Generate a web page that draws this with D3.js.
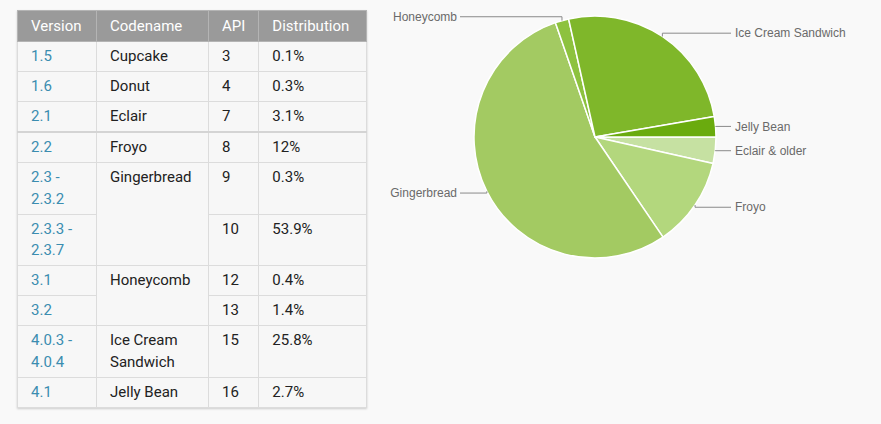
<!DOCTYPE html>
<html>
<head>
<meta charset="utf-8">
<script src="https://cdn.jsdelivr.net/npm/d3@7"></script>
<style>
  html, body { margin: 0; padding: 0; background: #f9f9f9; }
  #wrap { position: relative; width: 881px; height: 424px; overflow: hidden; }
  table.dist {
    position: absolute; left: 17px; top: 10px;
    border-collapse: collapse;
    font-family: Roboto, sans-serif; font-size: 15px; color: #222;
    box-shadow: 0 1px 2px rgba(0,0,0,0.18);
    background: #f7f7f7;
  }
  table.dist th {
    background: #9a9a9a; color: #fff; font-weight: normal; font-size: 15px;
    text-align: left; padding: 5px 13px 5px 13px; line-height: 20px;
    border: 1px solid #b4b4b4;
  }
  table.dist td {
    vertical-align: top; padding: 4px 13px 3.5px 13px; line-height: 21.5px;
    border: 1px solid #dcdcdc;
  }
  table.dist td.ver { color: #3b8db0; }
  table.dist tr.sep td { border-top: 2px solid #d4d4d4; }
  svg { position: absolute; left: 0; top: 0; }
</style>
</head>
<body>
<div id="wrap"></div>
<script>
// table data
const headers = ["Version", "Codename", "API", "Distribution"];
const versions = ["1.5", "1.6", "2.1", "2.2", "2.3 -\n2.3.2", "2.3.3 -\n2.3.7", "3.1", "3.2", "4.0.3 -\n4.0.4", "4.1"];
const codenames = ["Cupcake", "Donut", "Eclair", "Froyo", "Gingerbread", null, "Honeycomb", null, "Ice Cream\nSandwich", "Jelly Bean"];
const codenameSpans = [1, 1, 1, 1, 2, 0, 2, 0, 1, 1];
const apiLevels = ["3", "4", "7", "8", "9", "10", "12", "13", "15", "16"];
const distribution = ["0.1%", "0.3%", "3.1%", "12%", "0.3%", "53.9%", "0.4%", "1.4%", "25.8%", "2.7%"];

// pie data
const pieNames = ["Eclair & older", "Froyo", "Gingerbread", "Honeycomb", "Ice Cream Sandwich", "Jelly Bean"];
const pieValues = [3.5, 12, 54.2, 1.8, 25.8, 2.7];
const pieColors = ["#c6e1a2", "#b3d77d", "#a3ca62", "#8dc23e", "#7fb72a", "#6aab0e"];

const wrap = d3.select("#wrap");

// ---- table ----
const table = wrap.append("table").attr("class", "dist");
table.append("tr").selectAll("th")
  .data(headers)
  .enter().append("th")
    .text(d => d);

const rows = table.selectAll("tr.row")
  .data(versions.map((v, i) => ({ i: i, version: v })))
  .enter().append("tr")
    .attr("class", d => d.i === 3 ? "row sep" : "row");

rows.each(function(d) {
  const tr = d3.select(this);
  const i = d.i;
  tr.append("td").attr("class", "ver").style("width", "52px")
    .html(versions[i].replace("\n", "<br>"));
  if (codenameSpans[i] > 0) {
    tr.append("td").attr("rowspan", codenameSpans[i]).style("width", "85px")
      .html(codenames[i].replace("\n", "<br>"));
  }
  tr.append("td").style("width", "23px").text(apiLevels[i]);
  tr.append("td").style("width", "81px").text(distribution[i]);
});

// ---- pie ----
const width = 881, height = 424;
const cx = 595, cy = 137, radius = 121;

const svg = wrap.append("svg")
  .attr("width", width)
  .attr("height", height);

const g = svg.append("g").attr("transform", "translate(" + cx + "," + cy + ")");

const pie = d3.pie()
  .sort(null)
  .startAngle(Math.PI / 2)
  .endAngle(Math.PI / 2 + 2 * Math.PI)
  .value(d => d.value);

const arcs = pie(pieNames.map((n, i) => ({ name: n, value: pieValues[i], color: pieColors[i] })));

const arc = d3.arc().innerRadius(0).outerRadius(radius);

g.selectAll("path.slice")
  .data(arcs)
  .enter().append("path")
    .attr("class", "slice")
    .attr("d", arc)
    .attr("fill", d => d.data.color)
    .attr("stroke", "#fff")
    .attr("stroke-width", 1.5)
    .attr("stroke-linejoin", "round");

// labels: tick from slice edge, then horizontal leader to the text
function labelPoints(d) {
  const a = (d.startAngle + d.endAngle) / 2;
  const ex = Math.sin(a) * radius, ey = -Math.cos(a) * radius;
  const ly = -Math.cos(a) * (radius + 4);
  const right = Math.sin(a) > 0;
  const endX = right ? radius + 15 : -(radius + 14);
  return { a: a, ex: ex, ey: ey, ly: ly, right: right, endX: endX };
}

const labels = g.selectAll("g.label")
  .data(arcs)
  .enter().append("g")
    .attr("class", "label");

labels.append("path")
  .attr("fill", "none")
  .attr("stroke", "#8a8a8a")
  .attr("stroke-width", 1)
  .attr("d", d => {
    const p = labelPoints(d);
    return d3.line()([[p.ex, p.ey], [p.ex, p.ly], [p.endX, p.ly]]);
  });

labels.append("text")
  .attr("x", d => { const p = labelPoints(d); return p.right ? p.endX + 4 : p.endX - 3; })
  .attr("y", d => labelPoints(d).ly)
  .attr("dy", "0.35em")
  .attr("text-anchor", d => labelPoints(d).right ? "start" : "end")
  .attr("font-family", "'Liberation Sans', Arial, sans-serif")
  .attr("font-size", 12)
  .attr("fill", "#6a6a6a")
  .text(d => d.data.name);
</script>
</body>
</html>
